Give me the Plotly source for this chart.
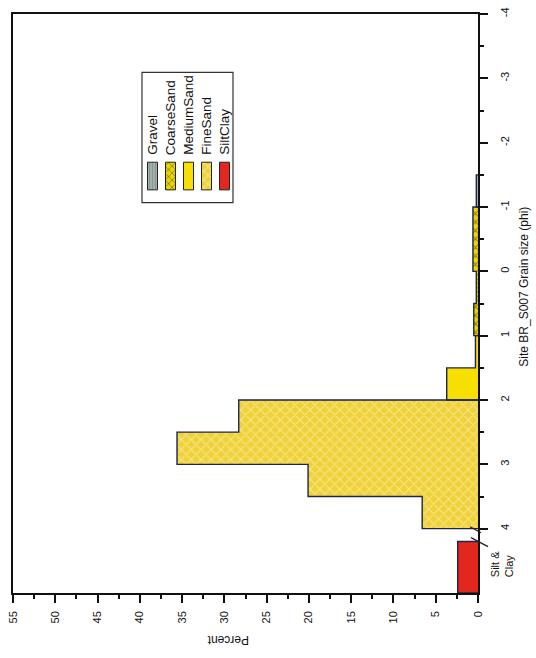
import plotly.graph_objects as go

# Grain-size classes: lower phi edge of each 0.5-phi bin and percent in that bin
bin_width = 0.5
gravel_lo = [-1.5]
gravel_pct = [0.2]
coarse_lo = [-1.0, -0.5, 0.0, 0.5]
coarse_pct = [0.6, 0.6, 0.2, 0.5]
medium_lo = [1.0, 1.5]
medium_pct = [0.3, 3.7]
fine_lo = [2.0, 2.5, 3.0, 3.5]
fine_pct = [28.3, 35.6, 20.1, 6.6]
# Silt & clay is lumped into one slot below the phi scale
siltclay_lo = [4.2]
siltclay_width = 0.8
siltclay_pct = [2.4]

pct_ticks = list(range(0, 60, 5))
phi_ticks = [-4, -3, -2, -1, 0, 1, 2, 3, 4]
phi_ticktext = ["-4", "-3", "-2", "-1", "0", "1", "2", "3", "4"]

FONT = "Liberation Sans, Arial, sans-serif"
EDGE = "#1c2452"

classes = [
    ("Gravel", gravel_lo, gravel_pct, bin_width,
     dict(color="#8f9f9b", pattern=dict(shape="|", fgcolor="#6d7b78", bgcolor="#9fb0ac", size=4, solidity=0.3))),
    ("CoarseSand", coarse_lo, coarse_pct, bin_width,
     dict(color="#e3d200", pattern=dict(shape="x", fgcolor="#2c2a08", bgcolor="#e8d600", size=6, solidity=0.3))),
    ("MediumSand", medium_lo, medium_pct, bin_width,
     dict(color="#f7e000")),
    ("FineSand", fine_lo, fine_pct, bin_width,
     dict(color="#f0d43a", pattern=dict(shape="x", fgcolor="#fff7cf", bgcolor="#efd23a", size=7, solidity=0.3))),
    ("SiltClay", siltclay_lo, siltclay_pct, siltclay_width,
     dict(color="#e2271f")),
]

fig = go.Figure()

for name, lo, pct, w, marker in classes:
    centers = [v + w / 2 for v in lo]
    fig.add_trace(go.Bar(
        y=centers, x=pct, width=w, base=0, orientation="h", name=name,
        marker=dict(line=dict(width=0), **marker), showlegend=False,
        hoverinfo="skip",
    ))
    # stepped outline around each class group
    xs, ys = [0], [lo[0]]
    for v, p in zip(lo, pct):
        xs += [p, p]
        ys += [v, v + w]
    xs.append(0)
    ys.append(lo[-1] + w)
    fig.add_trace(go.Scatter(
        x=xs, y=ys, mode="lines", line=dict(color=EDGE, width=1.4),
        showlegend=False, hoverinfo="skip",
    ))

# Legend key drawn on a pixel-scaled overlay (plot area spans x 13..478, y 7..593)
legend_cols = [152.5, 170.5, 188.5, 206.5, 224.5]
sw_half = 5
sw_top, sw_bot = 157, 185
for (name, lo, pct, w, marker), cx in zip(classes, legend_cols):
    kw = dict(fillcolor=marker["color"])
    if "pattern" in marker:
        p = marker["pattern"]
        kw["fillpattern"] = dict(shape=p["shape"], fgcolor=p["fgcolor"], bgcolor=p["bgcolor"],
                                 size=p["size"] - 1, solidity=p["solidity"])
    fig.add_trace(go.Scatter(
        x=[cx - sw_half, cx + sw_half, cx + sw_half, cx - sw_half, cx - sw_half],
        y=[sw_bot, sw_bot, sw_top, sw_top, sw_bot],
        mode="lines", fill="toself", line=dict(color="#222222", width=1),
        xaxis="x2", yaxis="y2", showlegend=False, hoverinfo="skip", **kw,
    ))

annotations = []
for (name, *_), cx in zip(classes, legend_cols):
    annotations.append(dict(
        x=cx, y=152, xref="x2", yref="y2", text=name, showarrow=False,
        textangle=-90, xanchor="center", yanchor="bottom",
        font=dict(family=FONT, size=13.5, color="#111111"),
    ))

def px(xp):
    return (xp - 13) / 465

def py(yp):
    return (593 - yp) / 586

annotations += [
    dict(x=px(228), y=py(640), xref="paper", yref="paper", text="Percent",
         showarrow=False, textangle=180, xanchor="center", yanchor="middle",
         font=dict(family=FONT, size=12, color="#111111")),
    dict(x=px(524), y=py(283), xref="paper", yref="paper",
         text="Site BR_S007 Grain size (phi)", showarrow=False, textangle=-90,
         xanchor="center", yanchor="middle",
         font=dict(family=FONT, size=12, color="#111111")),
    dict(x=px(502), y=py(579), xref="paper", yref="paper", text="Silt &amp;<br>Clay",
         showarrow=False, textangle=-90, xanchor="center", yanchor="bottom", align="left",
         font=dict(family=FONT, size=11, color="#111111")),
]

shapes = [
    # legend frame
    dict(type="rect", xref="x2", yref="y2", x0=142, x1=233, y0=66, y1=198,
         line=dict(color="#333333", width=1.2), fillcolor="rgba(255,255,255,0)", layer="below"),
    # axis break marks at phi 4
    dict(type="line", xref="paper", yref="paper", x0=px(470), y0=py(526), x1=px(481), y1=py(532),
         line=dict(color="#222222", width=1.3)),
    dict(type="line", xref="paper", yref="paper", x0=px(471), y0=py(537), x1=px(488), y1=py(546),
         line=dict(color="#222222", width=1.3)),
]

fig.update_layout(
    width=536, height=658,
    margin=dict(l=13, r=58, t=7, b=65),
    paper_bgcolor="white", plot_bgcolor="white",
    barmode="overlay", bargap=0,
    showlegend=False,
    annotations=annotations, shapes=shapes,
    xaxis=dict(
        range=[55, 0], tickvals=pct_ticks, ticks="outside", ticklen=8, tickwidth=1.5,
        tickcolor="#111111", tickangle=-90, ticklabelstandoff=4,
        tickfont=dict(family=FONT, size=11, color="#111111"),
        minor=dict(tickvals=[2.5 + 5 * i for i in range(11)], ticks="outside", ticklen=4,
                   tickwidth=1.5, tickcolor="#111111"),
        showline=True, linecolor="#111111", linewidth=1.5, mirror=True,
        showgrid=False, zeroline=False, fixedrange=True,
    ),
    yaxis=dict(
        range=[5, -4], side="right", tickvals=phi_ticks, ticktext=phi_ticktext,
        ticks="outside", ticklen=8, tickwidth=1.5, tickcolor="#111111",
        tickangle=-90, ticklabelstandoff=8,
        tickfont=dict(family=FONT, size=11, color="#111111"),
        minor=dict(tickvals=[-3.5 + i for i in range(8)], ticks="outside", ticklen=4,
                   tickwidth=1.5, tickcolor="#111111"),
        showline=True, linecolor="#111111", linewidth=1.5, mirror=True,
        showgrid=False, zeroline=False, fixedrange=True,
    ),
    xaxis2=dict(range=[13, 478], overlaying="x", anchor="y2", visible=False, fixedrange=True),
    yaxis2=dict(range=[593, 7], overlaying="y", anchor="x2", visible=False, fixedrange=True),
)

fig.write_html("out.html")
